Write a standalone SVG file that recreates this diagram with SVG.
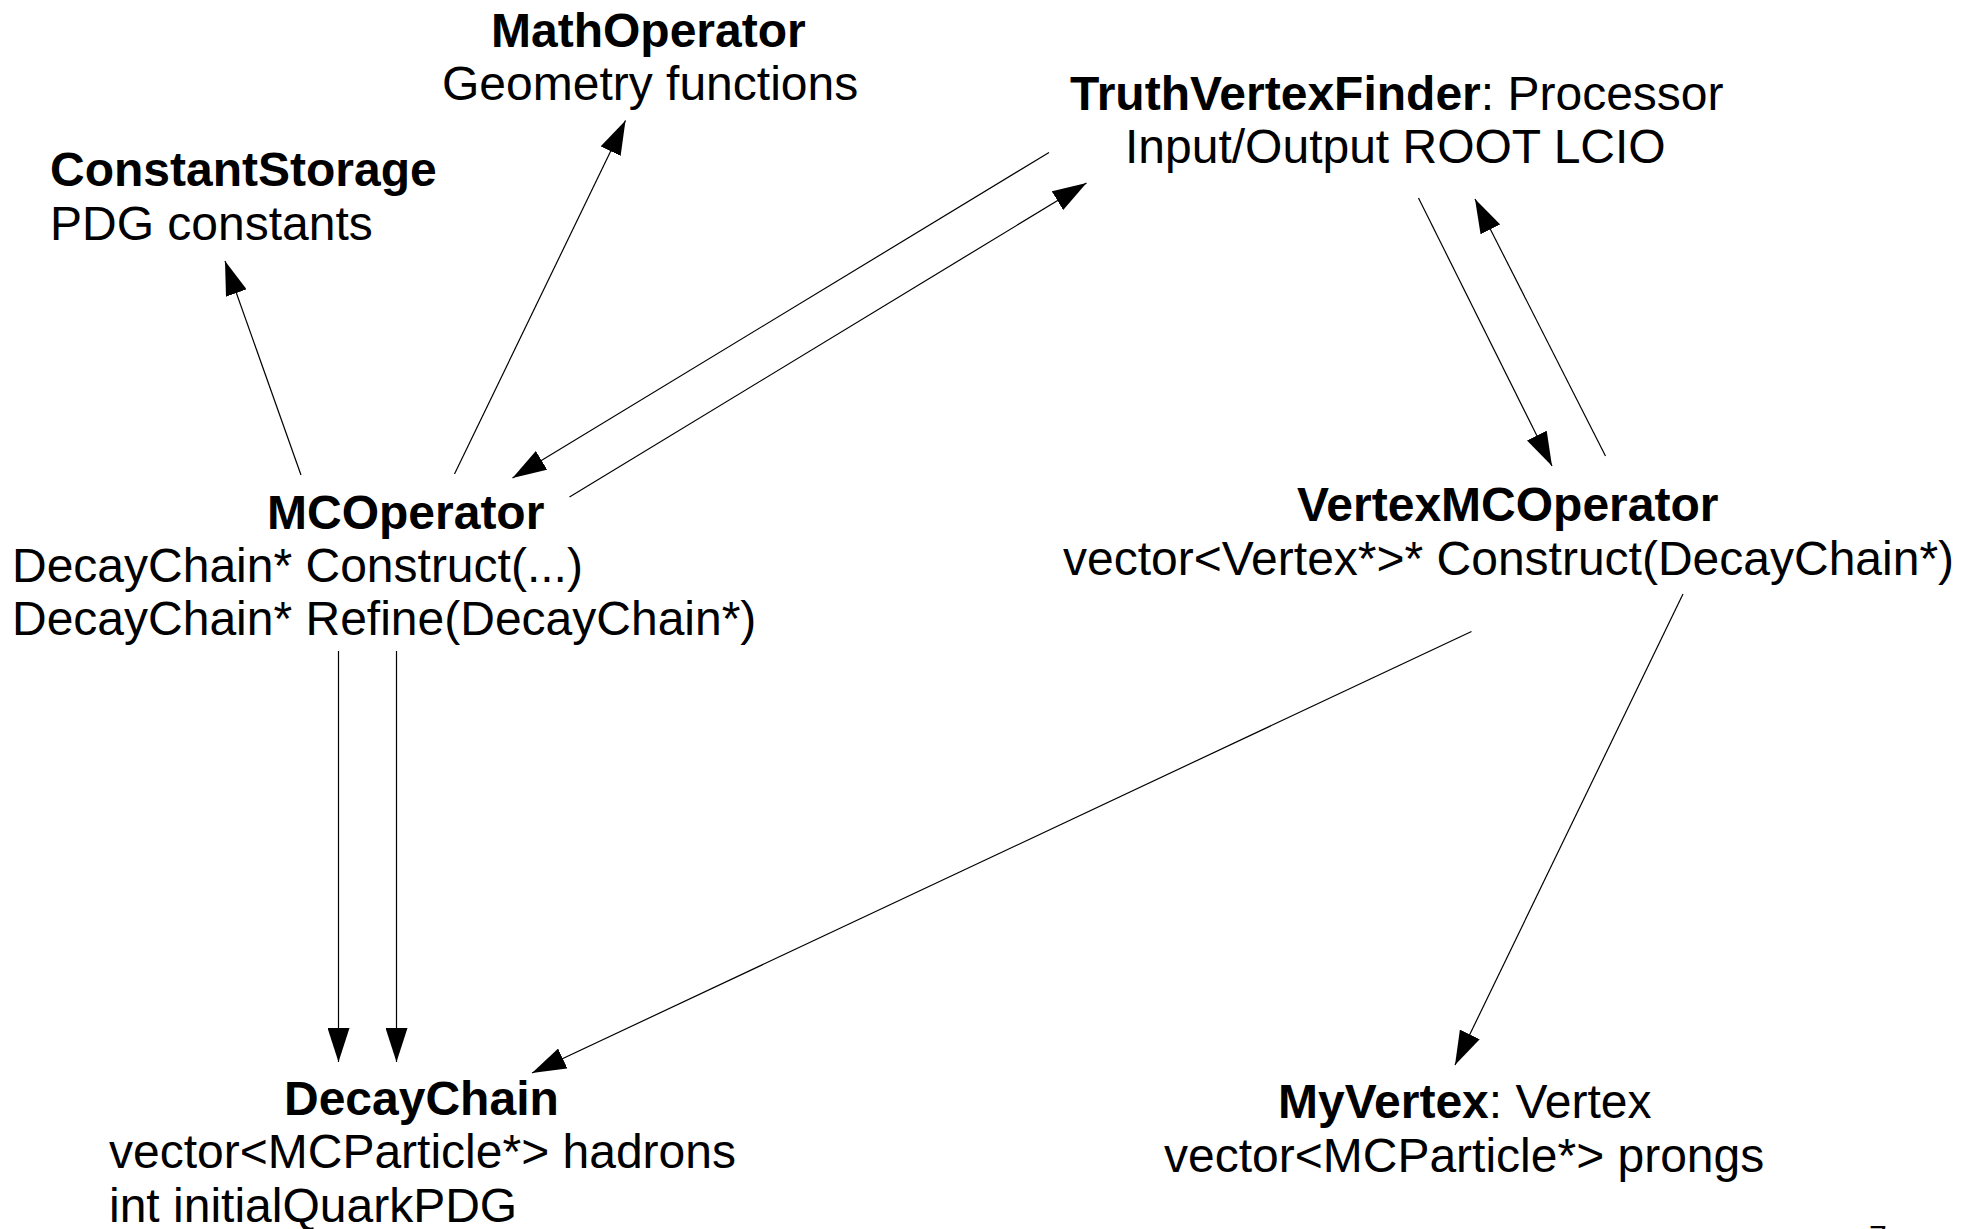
<svg xmlns="http://www.w3.org/2000/svg" width="1969" height="1229" viewBox="0 0 1969 1229">
<style>
text { font-family: "Liberation Sans", Arial, sans-serif; font-size: 48px; fill: #000; }
.b { font-weight: bold; }
.conn line { stroke: #000; stroke-width: 1.2; fill: none; marker-end: url(#arr); }
</style>
<defs>
<marker id="arr" markerUnits="userSpaceOnUse" viewBox="0 0 34 22" refX="34" refY="11" markerWidth="34" markerHeight="22" orient="auto">
<path d="M0,0 L34,11 L0,22 Z" fill="#000"/>
</marker>
</defs>
<rect width="1969" height="1229" fill="#fff"/>
<g id="MathOperator">
<text class="b" x="491" y="47">MathOperator</text>
<text x="442" y="100">Geometry functions</text>
</g>
<g id="ConstantStorage">
<text class="b" x="50" y="186">ConstantStorage</text>
<text x="50" y="240">PDG constants</text>
</g>
<g id="TruthVertexFinder">
<text x="1070" y="110"><tspan class="b">TruthVertexFinder</tspan>: Processor</text>
<text x="1125" y="163">Input/Output ROOT LCIO</text>
</g>
<g id="MCOperator">
<text class="b" x="267" y="529">MCOperator</text>
<text x="12" y="582">DecayChain* Construct(...)</text>
<text x="12" y="635">DecayChain* Refine(DecayChain*)</text>
</g>
<g id="VertexMCOperator">
<text class="b" x="1297" y="521">VertexMCOperator</text>
<text x="1063" y="575">vector&lt;Vertex*&gt;* Construct(DecayChain*)</text>
</g>
<g id="DecayChain">
<text class="b" x="284" y="1115">DecayChain</text>
<text x="109" y="1168">vector&lt;MCParticle*&gt; hadrons</text>
<text x="109" y="1222">int initialQuarkPDG</text>
</g>
<g id="MyVertex">
<text x="1278" y="1118"><tspan class="b">MyVertex</tspan>: Vertex</text>
<text x="1164" y="1172">vector&lt;MCParticle*&gt; prongs</text>
</g>
<g id="pagenum">
<text x="1869" y="1248" style="font-size:32px">7</text>
</g>
<g id="connectors" class="conn">
<line x1="301" y1="475" x2="225" y2="261"/>
<line x1="454.5" y1="474" x2="625.5" y2="120.5"/>
<line x1="1049" y1="152.5" x2="512.5" y2="478"/>
<line x1="569.5" y1="497" x2="1086.5" y2="183"/>
<line x1="1418.5" y1="198" x2="1552" y2="466"/>
<line x1="1605.5" y1="456" x2="1475" y2="199"/>
<line x1="338.5" y1="651" x2="338.5" y2="1062"/>
<line x1="396.5" y1="651" x2="396.5" y2="1062"/>
<line x1="1471.5" y1="631.5" x2="532" y2="1073"/>
<line x1="1683" y1="594" x2="1455" y2="1065"/>
</g>
</svg>
